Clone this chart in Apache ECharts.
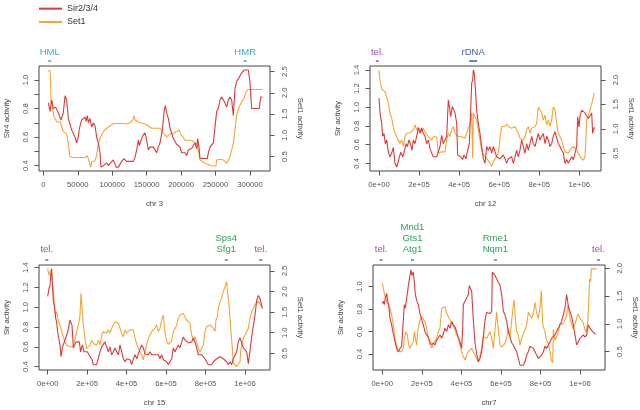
<!DOCTYPE html>
<html><head><meta charset="utf-8">
<script src="https://cdn.jsdelivr.net/npm/echarts@6/dist/echarts.min.js"></script>
<style>html,body{margin:0;padding:0;background:#fff}#c{width:640px;height:410px}</style>
</head><body><div id="c"></div>
<script>
// ---------- DATA ----------
const seriesNames = ['Sir2/3/4', 'Set1'];

// chr 3
const chr3Sir = [[7300,0.84],[9700,0.78],[12100,0.86],[14500,0.80],[17900,0.81],[21800,0.77],[25600,0.72],[29000,0.77],[31500,0.89],[33900,0.86],[36300,0.73],[38700,0.72],[41100,0.65],[43500,0.64],[46000,0.60],[48400,0.56],[50800,0.60],[52300,0.66],[55600,0.72],[58100,0.73],[60500,0.74],[61900,0.71],[63900,0.75],[65300,0.70],[67700,0.73],[70200,0.67],[72600,0.70],[75000,0.68],[77400,0.60],[79800,0.56],[82300,0.49],[83700,0.39],[87100,0.40],[91900,0.42],[94400,0.40],[97700,0.42],[101600,0.44],[104000,0.45],[105500,0.39],[108900,0.39],[111300,0.39],[113700,0.43],[117100,0.45],[121000,0.43],[125800,0.43],[130600,0.43],[133100,0.46],[135500,0.51],[137900,0.58],[139400,0.54],[141300,0.53],[144200,0.61],[147600,0.63],[150000,0.58],[152400,0.51],[154800,0.53],[157300,0.52],[159700,0.53],[164500,0.49],[166900,0.53],[169400,0.56],[172700,0.65],[175600,0.79],[177100,0.82],[179000,0.77],[181500,0.73],[183900,0.66],[186300,0.63],[188700,0.59],[191100,0.58],[193500,0.55],[196000,0.54],[198400,0.53],[200800,0.49],[203200,0.48],[205600,0.49],[208100,0.47],[210500,0.51],[212900,0.50],[215300,0.52],[217700,0.52],[220200,0.56],[222600,0.52],[224000,0.59],[226000,0.53],[227400,0.45],[229800,0.45],[233200,0.45],[235600,0.46],[238100,0.45],[239500,0.49],[241900,0.53],[246800,0.56],[249200,0.57],[251600,0.78],[254000,0.80],[256500,0.86],[258900,0.88],[261300,0.89],[263700,0.84],[266100,0.81],[268500,0.86],[271000,0.88],[273400,0.86],[275800,0.75],[278200,0.94],[280600,0.99],[284500,1.02],[287900,1.05],[291800,1.07],[297600,1.07],[300000,0.98],[302400,0.80],[307300,0.80],[313500,0.80],[315500,0.88],[317900,0.88]];
const chr3Set = [[6300,2.52],[9700,2.52],[10600,2.30],[11100,1.75],[12100,1.83],[13500,1.60],[15500,1.44],[16900,1.48],[19400,1.32],[24200,1.32],[26600,1.21],[29000,1.09],[31500,1.05],[33900,1.03],[36300,0.81],[38700,0.50],[43500,0.48],[53200,0.48],[60500,0.48],[63900,0.52],[65800,0.52],[66800,0.38],[68700,0.25],[70200,0.38],[72600,0.40],[75000,0.40],[77400,0.54],[79800,0.81],[82300,0.93],[84700,1.01],[87100,1.09],[89500,1.14],[91900,1.17],[96800,1.22],[101600,1.28],[106500,1.28],[113700,1.28],[116100,1.27],[121000,1.27],[125800,1.30],[129700,1.36],[131600,1.46],[133100,1.36],[140300,1.30],[145200,1.28],[150000,1.25],[157300,1.17],[164500,1.17],[169400,1.17],[171800,1.13],[174200,1.05],[176600,1.09],[179000,0.97],[183900,1.03],[188700,1.05],[193500,1.09],[197400,1.13],[199400,1.03],[203200,0.95],[205600,0.89],[215300,0.88],[220200,0.83],[223500,0.80],[226000,0.81],[227400,0.42],[232300,0.37],[237100,0.33],[241900,0.30],[246800,0.28],[250600,0.28],[251600,0.42],[256500,0.44],[261300,0.42],[263700,0.38],[266100,0.34],[268500,0.36],[271000,0.50],[275800,0.81],[278200,1.13],[280600,1.48],[284500,1.68],[287900,1.79],[291300,1.87],[294200,2.03],[297600,2.08],[304800,2.08],[317900,2.08]];

// chr 12
const chr12Sir = [[0,1.10],[5000,0.94],[13300,0.83],[18300,0.69],[25000,0.72],[31600,0.61],[38300,0.65],[46600,0.52],[54900,0.47],[63200,0.51],[71500,0.57],[79900,0.40],[88200,0.36],[96500,0.38],[104800,0.49],[109800,0.52],[118100,0.47],[124800,0.51],[129800,0.56],[134800,0.61],[141400,0.58],[149800,0.65],[158100,0.60],[164700,0.54],[171400,0.65],[179700,0.61],[188000,0.69],[196300,0.78],[204700,0.72],[213000,0.78],[221300,0.72],[229600,0.69],[237900,0.61],[246300,0.65],[254600,0.56],[262900,0.51],[271200,0.47],[279500,0.45],[287900,0.47],[296200,0.45],[304500,0.58],[312800,0.70],[321100,0.61],[329500,0.63],[337800,0.69],[346100,1.08],[351100,1.01],[357700,0.90],[366100,1.01],[371000,1.03],[379400,0.94],[387700,0.83],[392700,0.49],[401000,0.51],[407700,0.47],[417600,0.44],[424300,0.49],[434300,0.45],[442600,0.54],[450900,0.61],[457600,0.97],[462600,1.26],[467600,1.29],[470900,1.40],[475900,1.36],[482500,1.15],[487500,0.97],[495800,0.83],[504200,0.72],[512500,0.58],[520800,0.45],[529100,0.40],[537400,0.58],[545800,0.54],[554100,0.58],[562400,0.51],[570700,0.58],[579000,0.58],[587400,0.47],[595700,0.45],[604000,0.45],[612300,0.47],[620600,0.49],[629000,0.45],[637300,0.40],[645600,0.45],[653900,0.44],[662200,0.47],[670600,0.40],[678900,0.47],[687200,0.54],[695500,0.47],[703800,0.54],[712100,0.65],[720500,0.58],[728800,0.51],[737100,0.61],[745400,0.54],[753700,0.61],[762100,0.69],[770400,0.61],[778700,0.58],[787000,0.65],[795300,0.72],[803700,0.65],[812000,0.69],[820300,0.72],[828600,0.61],[836900,0.69],[845300,0.65],[853600,0.58],[861900,0.61],[870200,0.69],[878500,0.74],[886900,0.72],[895200,0.61],[903500,0.58],[911800,0.54],[920100,0.51],[928500,0.40],[936800,0.44],[945100,0.40],[953400,0.42],[961700,0.47],[970100,0.44],[978400,0.45],[986700,0.58],[991700,0.90],[998300,0.79],[1003300,0.90],[1011600,0.97],[1020000,0.99],[1028300,0.94],[1036600,0.96],[1044900,0.88],[1053200,0.90],[1061600,0.94],[1066600,0.72],[1073200,0.78],[1078200,0.78]];
const chr12Set = [[0,2.20],[5000,2.00],[13300,1.82],[21600,1.78],[30000,1.76],[38300,1.66],[46600,1.52],[54900,1.32],[63200,1.22],[71500,1.05],[79900,0.91],[88200,0.84],[96500,0.87],[104800,0.70],[113100,0.77],[121500,0.64],[129800,0.84],[138100,0.91],[146400,0.87],[154700,0.92],[163100,0.91],[171400,0.98],[179700,1.08],[188000,0.98],[196300,1.03],[204700,1.05],[213000,0.94],[221300,1.01],[229600,0.94],[237900,0.91],[246300,0.84],[254600,0.87],[262900,0.77],[271200,0.84],[279500,0.81],[287900,0.84],[296200,0.50],[304500,0.50],[312800,0.53],[321100,0.55],[329500,0.53],[337800,0.77],[346100,0.91],[354400,0.84],[362700,0.98],[371000,1.05],[379400,0.91],[387700,0.91],[396000,0.84],[404300,0.87],[412600,0.84],[421000,0.87],[429300,0.81],[437600,0.91],[442600,0.98],[450900,1.05],[457600,1.18],[462600,1.32],[467600,0.40],[470900,1.32],[479200,1.32],[487500,1.18],[495800,0.98],[504200,0.77],[512500,0.57],[520800,0.47],[529100,0.43],[537400,0.40],[545800,0.36],[554100,0.30],[562400,0.23],[570700,0.33],[579000,0.36],[587400,0.45],[595700,0.50],[604000,0.80],[612300,1.05],[620600,1.08],[629000,1.05],[637300,1.10],[645600,1.05],[653900,1.08],[662200,1.01],[670600,0.98],[678900,1.05],[687200,0.98],[695500,0.91],[703800,0.81],[712100,0.84],[720500,0.77],[728800,0.84],[737100,0.98],[745400,1.05],[753700,0.91],[762100,1.01],[770400,1.05],[778700,1.05],[787000,1.11],[795300,1.45],[803700,1.49],[812000,1.32],[820300,1.18],[828600,1.28],[836900,1.08],[845300,1.18],[853600,1.05],[861900,1.18],[870200,1.45],[878500,1.39],[886900,1.11],[895200,0.91],[903500,0.84],[911800,0.77],[920100,0.64],[928500,0.53],[936800,0.50],[945100,0.50],[953400,0.57],[961700,0.53],[970100,0.64],[978400,0.67],[986700,0.57],[995000,0.50],[1003300,0.43],[1011600,0.40],[1020000,0.36],[1028300,0.43],[1036600,1.18],[1044900,1.28],[1053200,1.39],[1061600,1.42],[1066600,1.59],[1073200,1.73]];

// chr 15
const chr15Sir = [[0,1.11],[6800,1.19],[11800,1.22],[15200,1.31],[20300,1.39],[25300,1.19],[28700,1.06],[33800,1.02],[40500,0.89],[45600,0.85],[50700,0.75],[55700,0.69],[62500,0.62],[67600,0.50],[74300,0.59],[79400,0.62],[87800,0.64],[96300,0.72],[101400,0.75],[108100,0.75],[113200,0.87],[118200,0.85],[123300,0.82],[130100,0.59],[136800,0.62],[143600,0.65],[152000,0.67],[160500,0.65],[167200,0.55],[175700,0.62],[184100,0.55],[192600,0.53],[201000,0.55],[209500,0.52],[217900,0.50],[224700,0.47],[231400,0.42],[239900,0.42],[248300,0.42],[256800,0.43],[265200,0.55],[273700,0.60],[282100,0.59],[290500,0.65],[299000,0.60],[307400,0.55],[315900,0.60],[324300,0.52],[332800,0.55],[341200,0.59],[349700,0.55],[358100,0.52],[366600,0.62],[375000,0.55],[383400,0.48],[391900,0.45],[400300,0.48],[408800,0.50],[417200,0.47],[425700,0.42],[434100,0.48],[442600,0.52],[451000,0.48],[459500,0.53],[467900,0.55],[476400,0.62],[484800,0.59],[493200,0.53],[501700,0.55],[510100,0.52],[518600,0.55],[527000,0.52],[535500,0.53],[543900,0.52],[552400,0.50],[560800,0.52],[569300,0.48],[577700,0.52],[586100,0.47],[594600,0.48],[603000,0.45],[611500,0.42],[619900,0.43],[628400,0.48],[636800,0.59],[645300,0.55],[653700,0.57],[662200,0.62],[670600,0.59],[679000,0.65],[687500,0.70],[695900,0.67],[704400,0.65],[712800,0.64],[721300,0.62],[729700,0.65],[738200,0.69],[746600,0.65],[755100,0.59],[763500,0.52],[772000,0.53],[780400,0.52],[788800,0.50],[797300,0.48],[805700,0.47],[814200,0.42],[822600,0.43],[831100,0.42],[839500,0.45],[848000,0.43],[856400,0.48],[864900,0.50],[873300,0.50],[881800,0.48],[890200,0.48],[898700,0.47],[907100,0.45],[915500,0.42],[924000,0.45],[932400,0.42],[940900,0.48],[949300,0.47],[957800,0.55],[966200,0.65],[974700,0.69],[983100,0.64],[991600,0.59],[1000000,0.60],[1008500,0.55],[1016900,0.43],[1022000,0.45],[1028700,0.62],[1037200,0.75],[1045600,0.85],[1050700,0.92],[1059100,1.07],[1067600,1.12],[1076000,1.09],[1084500,1.02],[1087800,0.99]];
const chr15Set = [[0,2.56],[6800,2.40],[11800,2.44],[16900,2.52],[23600,2.24],[28700,2.00],[33800,1.68],[38900,1.43],[45600,1.51],[54100,1.27],[62500,1.19],[70900,1.03],[79400,0.90],[87800,0.78],[96300,0.70],[104700,0.66],[113200,0.66],[121600,0.62],[130100,0.66],[138500,0.86],[147000,1.03],[155400,1.19],[163900,1.43],[168900,1.96],[175700,1.51],[180700,1.19],[189200,0.86],[197600,0.62],[206100,0.58],[214500,0.70],[223000,0.82],[231400,0.74],[239900,0.78],[248300,0.70],[256800,0.82],[265200,0.70],[273700,0.95],[282100,1.03],[290500,1.03],[299000,0.99],[307400,1.07],[315900,0.99],[324300,1.11],[332800,1.15],[341200,1.27],[349700,1.31],[358100,1.23],[366600,1.11],[375000,0.99],[383400,0.90],[391900,1.07],[400300,0.99],[408800,1.03],[417200,1.07],[425700,1.11],[434100,1.07],[442600,0.86],[451000,0.74],[459500,0.62],[467900,0.54],[476400,0.46],[484800,0.34],[493200,0.54],[501700,0.70],[510100,0.86],[518600,0.95],[527000,1.03],[535500,0.99],[543900,1.11],[552400,1.19],[560800,1.03],[569300,1.11],[577700,1.31],[586100,1.43],[594600,1.00],[603000,0.80],[611500,0.72],[619900,0.75],[628400,0.80],[636800,1.03],[645300,1.10],[653700,1.19],[662200,1.35],[670600,1.43],[679000,1.39],[687500,1.47],[695900,1.39],[704400,1.31],[712800,1.27],[721300,1.23],[729700,0.95],[738200,0.82],[746600,0.90],[755100,0.78],[763500,0.62],[772000,0.54],[780400,0.62],[788800,0.70],[797300,1.03],[805700,1.15],[814200,1.11],[822600,1.19],[831100,1.15],[839500,1.11],[848000,1.03],[853000,1.31],[859800,1.39],[864900,1.59],[873300,1.76],[881800,1.84],[890200,2.00],[898700,2.12],[907100,2.24],[912200,1.96],[919000,1.68],[924000,1.35],[929100,1.03],[935800,0.62],[940900,0.26],[949300,0.22],[957800,0.18],[966200,0.22],[974700,0.30],[978100,0.54],[984800,0.74],[991600,0.86],[1000000,0.90],[1008500,1.03],[1016900,1.11],[1025300,1.35],[1033800,1.51],[1042200,1.59],[1050700,1.68],[1059100,1.72],[1067600,1.76],[1076000,1.72],[1084500,1.63],[1087800,1.59]];

// chr 7
const chr7Sir = [[0,0.85],[5100,0.87],[10100,0.84],[15200,0.90],[21900,0.94],[27000,0.87],[32000,0.84],[38800,0.72],[47200,0.66],[55600,0.58],[64100,0.51],[72500,0.45],[80900,0.42],[89400,0.45],[97800,0.47],[106200,0.48],[111300,0.84],[116400,0.81],[123100,0.90],[128200,0.96],[133200,1.03],[140000,1.10],[145000,1.15],[150100,1.10],[156800,1.13],[161900,1.04],[166900,0.93],[173700,0.88],[182100,0.84],[190500,0.76],[199000,0.75],[207400,0.66],[215800,0.60],[224300,0.57],[232700,0.55],[241100,0.51],[249600,0.48],[258000,0.50],[266400,0.48],[274900,0.52],[283300,0.51],[291700,0.57],[300200,0.54],[308600,0.58],[317000,0.63],[325500,0.60],[333900,0.66],[342300,0.63],[350800,0.69],[359200,0.66],[367600,0.64],[376000,0.60],[384500,0.55],[392900,0.51],[401300,0.45],[406400,0.63],[409800,0.84],[418200,0.85],[426600,0.90],[435100,0.93],[440100,1.01],[446900,0.98],[451900,0.96],[457000,0.97],[460400,0.70],[468800,0.50],[477200,0.40],[485700,0.33],[494100,0.36],[502500,0.42],[510900,0.55],[519400,0.70],[527800,0.77],[536300,0.77],[544700,0.76],[553100,0.78],[556500,1.13],[561500,1.13],[570000,1.10],[578400,1.07],[586800,1.04],[595300,1.01],[603700,0.93],[612100,0.78],[620600,0.75],[629000,0.69],[637400,0.60],[645900,0.55],[654300,0.50],[662700,0.48],[671200,0.48],[679600,0.42],[688000,0.36],[696400,0.30],[704900,0.29],[713300,0.30],[721700,0.33],[730200,0.39],[738600,0.42],[747000,0.47],[755500,0.48],[763900,0.45],[772300,0.42],[780700,0.39],[789200,0.36],[797600,0.35],[806000,0.39],[814500,0.42],[822900,0.47],[831300,0.45],[839800,0.48],[848200,0.51],[856600,0.54],[865100,0.55],[873500,0.57],[881900,0.60],[890400,0.63],[898800,0.66],[907200,0.69],[915700,0.75],[924100,0.81],[932500,0.93],[937600,0.87],[942600,0.81],[949400,0.78],[957800,0.73],[966300,0.66],[971300,0.60],[974700,0.57],[983100,0.48],[991500,0.51],[1000000,0.54],[1008400,0.54],[1016800,0.57],[1025300,0.55],[1033700,0.57],[1042100,0.66],[1050600,0.63],[1059000,0.61],[1067400,0.61],[1075900,0.58],[1080900,0.58]];
const chr7Set = [[0,1.73],[5100,1.70],[10100,1.55],[15200,1.49],[21900,1.40],[30400,1.43],[38800,1.28],[47200,1.16],[55600,0.98],[64100,0.74],[72500,0.62],[80900,0.50],[89400,0.47],[97800,0.50],[106200,0.56],[111300,0.74],[119700,0.86],[126500,0.80],[133200,0.62],[140000,0.56],[148400,0.59],[156800,0.68],[161900,0.86],[166900,0.74],[173700,0.62],[178700,0.86],[183800,0.98],[190500,1.07],[199000,1.13],[207400,1.10],[215800,1.04],[224300,0.92],[232700,0.74],[241100,0.62],[249600,0.56],[258000,0.65],[266400,0.68],[274900,0.74],[283300,0.86],[291700,0.92],[300200,1.28],[308600,1.31],[317000,1.31],[325500,1.19],[333900,1.16],[342300,1.07],[350800,1.10],[359200,0.98],[367600,0.89],[376000,0.80],[384500,0.74],[392900,0.62],[401300,0.50],[409800,0.41],[418200,0.35],[426600,0.44],[435100,0.50],[443500,0.53],[451900,0.56],[460400,0.50],[468800,0.44],[477200,0.38],[485700,0.32],[494100,0.41],[502500,0.56],[510900,0.77],[519400,0.80],[527800,0.74],[536300,0.80],[544700,0.86],[553100,0.74],[561500,0.56],[570000,0.90],[578400,1.21],[586800,0.90],[595300,0.62],[603700,0.58],[612100,0.60],[620600,0.65],[629000,0.75],[637400,0.92],[645900,0.77],[654300,0.80],[662700,1.34],[667800,1.43],[672900,1.10],[679600,0.86],[688000,0.80],[696400,0.62],[704900,0.74],[713300,0.77],[721700,0.89],[730200,0.98],[738600,1.21],[747000,1.22],[755500,1.10],[763900,1.19],[772300,1.39],[780700,1.20],[789200,1.10],[797600,1.30],[804400,1.60],[811100,1.00],[822900,0.85],[831300,0.70],[839800,0.65],[848200,0.50],[855000,0.35],[861700,0.30],[865100,0.90],[873500,0.70],[881900,0.67],[890400,0.85],[898800,1.00],[915700,1.00],[932500,1.15],[939300,1.33],[949400,1.10],[964600,0.91],[974700,1.00],[989900,1.18],[1000000,1.10],[1015200,1.03],[1025300,0.90],[1032000,0.85],[1040400,1.09],[1048900,1.81],[1054000,1.76],[1057300,1.99],[1070800,1.99],[1084300,1.99]];

// tick values and labels
const chr3XTicks = [0, 50000, 100000, 150000, 200000, 250000, 300000];
const chr3XLabels = ['0', '50000', '100000', '150000', '200000', '250000', '300000'];
const bigXTicks = [0, 200000, 400000, 600000, 800000, 1000000];
const bigXLabels = ['0e+00', '2e+05', '4e+05', '6e+05', '8e+05', '1e+06'];
const chr3SirTicks = [0.4, 0.5, 0.6, 0.7, 0.8, 0.9, 1.0];
const chr3SirLabels = [0.4, 0.6, 0.8, 1.0];
const sir14Ticks = [0.4, 0.6, 0.8, 1.0, 1.2, 1.4];
const chr7SirTicks = [0.4, 0.6, 0.8, 1.0];
const set25Ticks = [0.5, 1.0, 1.5, 2.0, 2.5];
const set20Ticks = [0.5, 1.0, 1.5, 2.0];

// annotated loci
const chr3FeatStart = [7000, 291000];
const chr3FeatEnd = [11500, 295000];
const chr3FeatLabels = [['HML'], ['HMR']];
const chr3FeatKind = ['hm', 'hm'];
const chr12FeatStart = [-13000, 450000];
const chr12FeatEnd = [-4000, 490000];
const chr12FeatLabels = [['tel.'], ['rDNA']];
const chr12FeatKind = ['tel', 'rdna'];
const chr15FeatStart = [-9000, 900000, 1075000];
const chr15FeatEnd = [0, 910000, 1085000];
const chr15FeatLabels = [['tel.'], ['Sps4', 'Sfg1'], ['tel.']];
const chr15FeatKind = ['tel', 'gene', 'tel'];
const chr7FeatStart = [-10000, 147000, 567000, 1088000];
const chr7FeatEnd = [-2000, 158000, 577000, 1098000];
const chr7FeatLabels = [['tel.'], ['Mnd1', 'Gts1', 'Atg1'], ['Rme1', 'Nqm1'], ['tel.']];
const chr7FeatKind = ['tel', 'gene', 'gene', 'tel'];

// ---------- STYLE ----------
const RED = '#dc3a3a', ORANGE = '#f2a634';
const kindColor = { hm: '#33a9d6', tel: '#a24aa6', rdna: '#3d619c', gene: '#2f9f5a' };
const FONT = 'Liberation Sans';
const LBL = '#555', BOX = '#444';

const panels = [
  { grid: { left: 39, top: 66, width: 231, height: 105 }, x: [-6290, 329030], yl: [0.3627, 1.098], yr: [0.1628, 2.633],
    xt: chr3XTicks, xl: chr3XLabels, ylt: chr3SirTicks, yll: chr3SirLabels, yrt: set25Ticks, lab: 13.3,
    xname: 'chr 3', ylname: 'Sir4 activity', sir: chr3Sir, set: chr3Set,
    fs: chr3FeatStart, fe: chr3FeatEnd, fl: chr3FeatLabels, fk: chr3FeatKind },
  { grid: { left: 370, top: 66, width: 231, height: 105 }, x: [-44925, 1108170], yl: [0.3178, 1.4429], yr: [0.1386, 2.2864],
    xt: bigXTicks, xl: bigXLabels, ylt: sir14Ticks, yll: sir14Ticks, yrt: set20Ticks, lab: 13.3,
    xname: 'chr 12', ylname: 'Sir activity', sir: chr12Sir, set: chr12Set,
    fs: chr12FeatStart, fe: chr12FeatEnd, fl: chr12FeatLabels, fk: chr12FeatKind },
  { grid: { left: 39, top: 265, width: 231, height: 105 }, x: [-43940, 1126700], yl: [0.3664, 1.427], yr: [0.095, 2.646],
    xt: bigXTicks, xl: bigXLabels, ylt: sir14Ticks, yll: sir14Ticks, yrt: set25Ticks, lab: 15.5,
    xname: 'chr 15', ylname: 'Sir activity', sir: chr15Sir, set: chr15Set,
    fs: chr15FeatStart, fe: chr15FeatEnd, fl: chr15FeatLabels, fk: chr15FeatKind },
  { grid: { left: 373, top: 265, width: 232, height: 105 }, x: [-47200, 1126500], yl: [0.2574, 1.193], yr: [0.170, 2.06],
    xt: bigXTicks, xl: bigXLabels, ylt: chr7SirTicks, yll: chr7SirTicks, yrt: set20Ticks, lab: 15.5,
    xname: 'chr7', ylname: 'Sir activity', sir: chr7Sir, set: chr7Set,
    fs: chr7FeatStart, fe: chr7FeatEnd, fl: chr7FeatLabels, fk: chr7FeatKind }
];

const grids = [], xAxes = [], yAxes = [], series = [];
panels.forEach((p, i) => {
  grids.push(Object.assign({ show: true, borderColor: BOX, borderWidth: 1, backgroundColor: 'transparent', containLabel: false }, p.grid));
  xAxes.push({
    type: 'value', gridIndex: i, min: p.x[0], max: p.x[1],
    name: p.xname, nameLocation: 'middle', nameGap: 29,
    nameTextStyle: { fontFamily: FONT, fontSize: 7.7, color: '#444' },
    axisLine: { show: false, onZero: false }, splitLine: { show: false },
    axisTick: { show: true, length: 4.5, lineStyle: { color: LBL }, customValues: p.xt },
    axisLabel: { show: true, customValues: p.xt, fontFamily: FONT, fontSize: 7.7, color: LBL, margin: 10,
      formatter: v => { const k = p.xt.findIndex(t => Math.abs(t - v) < 1); return k >= 0 ? p.xl[k] : ''; } }
  });
  yAxes.push({
    type: 'value', gridIndex: i, position: 'left', min: p.yl[0], max: p.yl[1],
    name: p.ylname, nameLocation: 'middle', nameGap: 28, nameRotate: 90,
    nameTextStyle: { fontFamily: FONT, fontSize: 7.7, color: '#444' },
    axisLine: { show: false, onZero: false }, splitLine: { show: false },
    axisTick: { show: true, length: 4.5, lineStyle: { color: LBL }, customValues: p.ylt },
    axisLabel: { show: true, customValues: p.yll, rotate: 90, fontFamily: FONT, fontSize: 7.7, color: LBL, margin: 9.5,
      formatter: v => v.toFixed(1) }
  });
  yAxes.push({
    type: 'value', gridIndex: i, position: 'right', min: p.yr[0], max: p.yr[1],
    name: 'Set1 activity', nameLocation: 'middle', nameGap: 26, nameRotate: -90,
    nameTextStyle: { fontFamily: FONT, fontSize: 7.7, color: '#444' },
    axisLine: { show: false, onZero: false }, splitLine: { show: false },
    axisTick: { show: true, length: 4.5, lineStyle: { color: LBL }, customValues: p.yrt },
    axisLabel: { show: true, customValues: p.yrt, rotate: 90, fontFamily: FONT, fontSize: 7.7, color: LBL, margin: 11,
      formatter: v => v.toFixed(1) }
  });
  series.push({
    name: seriesNames[0], type: 'line', xAxisIndex: i, yAxisIndex: 2 * i, data: p.sir,
    showSymbol: false, symbol: 'none', lineStyle: { color: RED, width: 1.1 }, itemStyle: { color: RED }, z: 3
  });
  series.push({
    name: seriesNames[1], type: 'line', xAxisIndex: i, yAxisIndex: 2 * i + 1, data: p.set,
    showSymbol: false, symbol: 'none', lineStyle: { color: ORANGE, width: 1.1 }, itemStyle: { color: ORANGE }, z: 2
  });
  const ymin = p.yl[0];
  series.push({
    type: 'custom', name: 'loci' + i, xAxisIndex: i, yAxisIndex: 2 * i, clip: false, silent: true, z: 5,
    data: p.fs.map((s, k) => [s, p.fe[k]]),
    renderItem: function (params, api) {
      const k = params.dataIndex;
      const top = params.coordSys.y;
      let xa = api.coord([api.value(0), ymin])[0];
      let xb = api.coord([api.value(1), ymin])[0];
      if (xb - xa < 3) { const m = (xa + xb) / 2; xa = m - 1.5; xb = m + 1.5; }
      const col = kindColor[p.fk[k]];
      const cx = (xa + xb) / 2;
      const lines = p.fl[k];
      const children = [{ type: 'line', shape: { x1: xa, y1: top - 5, x2: xb, y2: top - 5 }, style: { stroke: col, lineWidth: 1.5 } }];
      lines.forEach((t, j) => {
        const y = top - p.lab - (lines.length - 1 - j) * 11.3;
        children.push({ type: 'text', style: { text: t, x: cx, y: y, textAlign: 'center', textVerticalAlign: 'middle', fill: col, font: '9.5px "' + FONT + '"' } });
      });
      return { type: 'group', children: children };
    }
  });
});

const chart = echarts.init(document.getElementById('c'), null, { renderer: 'canvas' });
chart.setOption({
  animation: false,
  backgroundColor: '#fff',
  textStyle: { fontFamily: FONT },
  legend: {
    data: seriesNames, orient: 'vertical', left: 39, top: 4, padding: 0, icon: 'rect', itemWidth: 23, itemHeight: 2, itemGap: 4,
    selectedMode: false, textStyle: { fontFamily: FONT, fontSize: 9, color: '#333', lineHeight: 9.3 }
  },
  grid: grids, xAxis: xAxes, yAxis: yAxes, series: series
});
</script></body></html>
